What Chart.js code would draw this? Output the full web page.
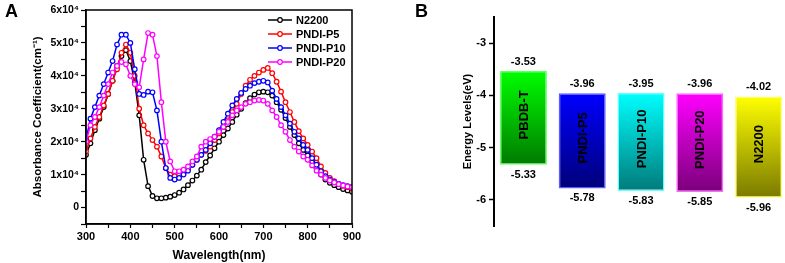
<!DOCTYPE html>
<html><head><meta charset="utf-8">
<script src="https://cdn.jsdelivr.net/npm/chart.js@4.4.1/dist/chart.umd.min.js"></script>
<style>
html,body{margin:0;padding:0;background:#fff;overflow:hidden;width:785px;height:263px;position:relative}
#wa{position:absolute;left:0;top:0;width:400px;height:263px}
#wb{position:absolute;left:400px;top:0;width:390px;height:263px}
.pl{position:absolute;font:bold 18px "Liberation Sans",Arial,sans-serif;line-height:18px;color:#000}
</style></head><body>
<div id="wa"><canvas id="ca" width="400" height="263"></canvas></div>
<div id="wb"><canvas id="cb" width="390" height="263"></canvas></div>
<div class="pl" style="left:5px;top:2px">A</div>
<div class="pl" style="left:415px;top:2px">B</div>
<script>
// ---------- Panel A data (absorbance coefficient, in units of 10^4 cm^-1) ----------
const wavelength = [300,310,320,330,340,350,360,370,380,390,400,410,420,430,440,450,460,470,480,490,
  500,510,520,530,540,550,560,570,580,590,600,610,620,630,640,650,660,670,680,690,
  700,710,720,730,740,750,760,770,780,790,800,810,820,830,840,850,860,870,880,890,900];
const seriesNames = ['N2200','PNDI-P5','PNDI-P10','PNDI-P20'];
const seriesColors = ['#000000','#ff0000','#0000ff','#ff00ff'];
const n2200 = [1.6,1.95,2.35,2.7,3.05,3.45,3.85,4.3,4.6,4.78,4.45,3.8,2.8,1.45,0.65,0.35,0.28,0.28,0.3,0.33,
  0.38,0.45,0.55,0.68,0.82,0.97,1.15,1.38,1.58,1.8,2.0,2.2,2.4,2.6,2.82,3.0,3.17,3.32,3.43,3.5,
  3.52,3.5,3.4,3.2,2.97,2.72,2.45,2.2,1.95,1.75,1.58,1.4,1.2,1.0,0.85,0.75,0.68,0.62,0.56,0.52,0.48];
const pndiP5 = [1.7,2.1,2.45,2.75,3.1,3.45,3.85,4.2,4.7,4.95,4.7,4.0,3.0,2.5,2.25,2.05,1.85,1.55,1.2,1.0,
  0.95,0.98,1.05,1.15,1.3,1.45,1.6,1.72,1.85,2.05,2.25,2.45,2.65,2.9,3.15,3.45,3.7,3.88,4.0,4.1,
  4.18,4.24,4.08,3.82,3.52,3.2,2.9,2.6,2.32,2.1,1.9,1.7,1.5,1.25,1.05,0.9,0.8,0.72,0.66,0.62,0.58];
const pndiP10 = [2.05,2.7,3.05,3.4,3.75,4.1,4.45,4.95,5.25,5.25,5.0,4.2,3.45,3.42,3.52,3.5,2.95,2.0,1.2,0.9,
  0.85,0.9,1.0,1.12,1.3,1.45,1.6,1.75,1.95,2.15,2.35,2.6,2.85,3.1,3.3,3.48,3.6,3.7,3.78,3.82,
  3.85,3.8,3.55,3.3,3.05,2.8,2.55,2.3,2.1,1.9,1.75,1.5,1.3,1.1,0.95,0.85,0.78,0.72,0.68,0.65,0.63];
const pndiP20 = [2.0,2.5,2.75,3.05,3.4,3.75,4.1,4.3,4.42,4.35,4.0,3.75,3.65,4.5,5.3,5.25,4.6,3.2,2.0,1.4,
  1.1,1.1,1.15,1.25,1.4,1.55,1.85,2.0,2.08,2.15,2.3,2.45,2.6,2.8,2.95,3.05,3.15,3.2,3.25,3.27,
  3.25,3.15,2.95,2.75,2.5,2.3,2.05,1.85,1.7,1.55,1.45,1.28,1.12,1.0,0.9,0.82,0.76,0.71,0.67,0.64,0.62];
const seriesValues = [n2200, pndiP5, pndiP10, pndiP20];

// ---------- Panel B data (energy levels, eV) ----------
const materials = ['PBDB-T','PNDI-P5','PNDI-P10','PNDI-P20','N2200'];
const lumo = [-3.53,-3.96,-3.95,-3.96,-4.02];
const homo = [-5.33,-5.78,-5.83,-5.85,-5.96];
const energyTicks = [-6,-5,-4,-3];
const barTop = ['#00ff00','#0000ff','#00ffff','#ff00ff','#ffff00'];
const barBottom = ['#007a00','#00007a','#007a7a','#7a007a','#7a7a00'];
const barEdge = ['#66ff66','#5a5aff','#66ffff','#ff66ff','#ffff66'];

const FONT = '"Liberation Sans", Arial, Helvetica, sans-serif';
Chart.defaults.font.family = FONT;
Chart.defaults.color = '#000';

// ---------- Chart A ----------
const framePlugin = {
  id: 'frame',
  afterDraw(chart) {
    const a = chart.chartArea, ctx = chart.ctx;
    ctx.save(); ctx.strokeStyle = '#000'; ctx.lineWidth = 1.5;
    ctx.strokeRect(a.left, a.top, a.right - a.left, a.bottom - a.top);
    ctx.restore();
  }
};
const legendPlugin = {
  id: 'innerLegend',
  afterDraw(chart) {
    const ctx = chart.ctx;
    ctx.save();
    ctx.font = 'bold 11px ' + FONT;
    ctx.textBaseline = 'middle';
    ctx.textAlign = 'left';
    seriesNames.forEach((name, i) => {
      const y = 20 + i * 14, x1 = 268, x2 = 292;
      ctx.strokeStyle = seriesColors[i]; ctx.lineWidth = 1.5;
      ctx.beginPath(); ctx.moveTo(x1, y); ctx.lineTo(x2, y); ctx.stroke();
      ctx.beginPath(); ctx.arc((x1 + x2) / 2, y, 2.3, 0, Math.PI * 2);
      ctx.fillStyle = '#fff'; ctx.fill(); ctx.lineWidth = 1.2; ctx.stroke();
      ctx.fillStyle = '#000';
      ctx.fillText(name, 296, y + 0.5);
    });
    ctx.restore();
  }
};

new Chart(document.getElementById('ca'), {
  type: 'line',
  data: {
    datasets: seriesNames.map((name, i) => ({
      label: name,
      data: wavelength.map((w, j) => ({x: w, y: seriesValues[i][j]})),
      borderColor: seriesColors[i],
      backgroundColor: seriesColors[i],
      borderWidth: 1.5,
      pointRadius: 2.3,
      pointBorderWidth: 1.2,
      pointBackgroundColor: '#ffffff',
      pointBorderColor: seriesColors[i],
      tension: 0,
      order: 4 - i
    }))
  },
  options: {
    responsive: false, animation: false, devicePixelRatio: 1,
    layout: {padding: {left: 0, right: 48, top: 10, bottom: 0}},
    plugins: {legend: {display: false}, tooltip: {enabled: false}},
    scales: {
      x: {
        type: 'linear', min: 300, max: 900,
        ticks: {stepSize: 50, maxRotation: 0, autoSkip: false, padding: 2,
          font: {size: 11, weight: 'bold'}, color: '#000',
          callback: v => (v % 100 === 0 ? String(v) : '')},
        grid: {display: true, drawOnChartArea: false, drawTicks: true, tickLength: 4, tickColor: '#000', tickWidth: 1.2},
        border: {display: true, color: '#000', width: 1.5},
        title: {display: true, text: 'Wavelength(nm)', font: {size: 12, weight: 'bold'}, color: '#000', padding: {top: 1, bottom: 0}},
        afterFit: s => { s.height = 39; }
      },
      y: {
        min: -0.5, max: 6,
        ticks: {stepSize: 0.5, autoSkip: false, padding: 2,
          font: {size: 10.5, weight: 'bold'}, color: '#000',
          callback: v => {
            if (Math.abs(v - Math.round(v)) > 1e-6) return '';
            const r = Math.round(v);
            return r === 0 ? '0' : r + 'x10\u2074';
          }},
        grid: {display: true, drawOnChartArea: false, drawTicks: true, tickLength: 5, tickColor: '#000', tickWidth: 1.2},
        border: {display: true, color: '#000', width: 1.5},
        title: {display: true, text: 'Absorbance Coefficient(cm\u207B\u00B9)', font: {size: 11.5, weight: 'bold'}, color: '#000', padding: {top: 31, bottom: 0}},
        afterFit: s => { s.width = 86; }
      }
    }
  },
  plugins: [framePlugin, legendPlugin]
});

// ---------- Chart B ----------
const barLabelPlugin = {
  id: 'barLabels',
  afterDatasetsDraw(chart) {
    const ctx = chart.ctx, ys = chart.scales.y;
    const meta = chart.getDatasetMeta(0);
    ctx.save();
    ctx.fillStyle = '#000';
    ctx.textAlign = 'center';
    ctx.textBaseline = 'middle';
    meta.data.forEach((el, i) => {
      const x = el.x;
      const top = ys.getPixelForValue(lumo[i]);
      const bot = ys.getPixelForValue(homo[i]);
      ctx.font = 'bold 11px ' + FONT;
      ctx.fillText(lumo[i].toFixed(2), x, top - 9);
      ctx.fillText(homo[i].toFixed(2), x, bot + 10);
      ctx.save();
      ctx.translate(x + 1, (top + bot) / 2 - 3);
      ctx.rotate(-Math.PI / 2);
      ctx.font = 'bold 13px ' + FONT;
      ctx.fillText(materials[i], 0, 0);
      ctx.restore();
    });
    ctx.restore();
  }
};

new Chart(document.getElementById('cb'), {
  type: 'bar',
  data: {
    labels: materials,
    datasets: [{
      data: materials.map((m, i) => [homo[i], lumo[i]]),
      backgroundColor: ctx => {
        const chart = ctx.chart, i = ctx.dataIndex;
        if (!chart.chartArea || i === undefined) return barTop[i] || '#888';
        const ys = chart.scales.y;
        const t = ys.getPixelForValue(lumo[i]), b = ys.getPixelForValue(homo[i]);
        const g = chart.ctx.createLinearGradient(0, t, 0, b);
        g.addColorStop(0, barTop[i]);
        g.addColorStop(1, barBottom[i]);
        return g;
      },
      borderColor: barEdge,
      borderWidth: 1.5,
      borderSkipped: false,
      barPercentage: 0.8,
      categoryPercentage: 1.0
    }]
  },
  options: {
    responsive: false, animation: false, devicePixelRatio: 1,
    layout: {padding: {left: 0, right: 2, top: 17, bottom: 37}},
    plugins: {legend: {display: false}, tooltip: {enabled: false}},
    scales: {
      x: {display: false},
      y: {
        min: -6.5, max: -2.5,
        afterBuildTicks: s => { s.ticks = energyTicks.map(v => ({value: v})); },
        ticks: {padding: 3, font: {size: 11, weight: 'bold'}, color: '#000'},
        grid: {display: true, drawOnChartArea: false, drawTicks: true, tickLength: 5, tickColor: '#000', tickWidth: 1.5},
        border: {display: true, color: '#000', width: 2},
        title: {display: true, text: 'Energy Levels(eV)', font: {size: 11, weight: 'bold'}, color: '#000', padding: {top: 61, bottom: 0}},
        afterFit: s => { s.width = 94; }
      }
    }
  },
  plugins: [barLabelPlugin]
});
</script>
</body></html>
